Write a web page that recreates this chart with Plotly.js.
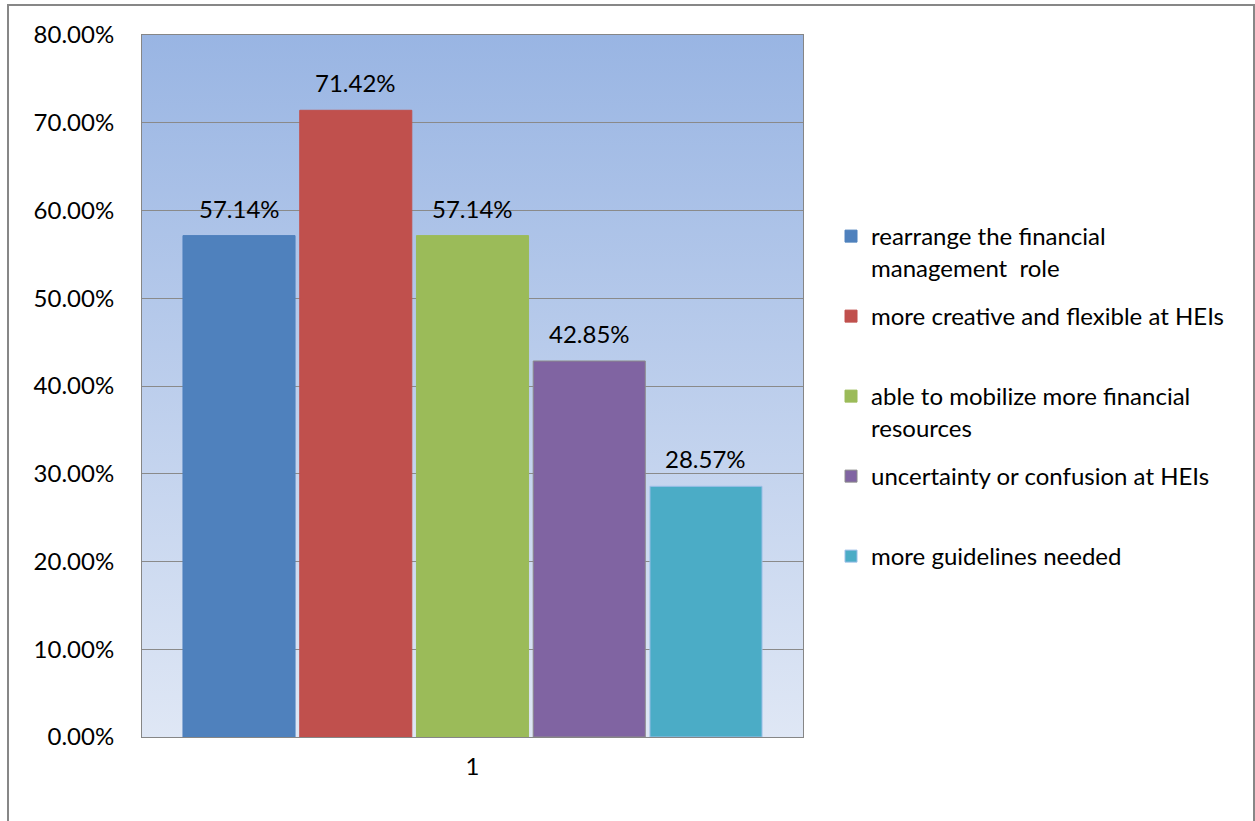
<!DOCTYPE html>
<html>
<head>
<meta charset="utf-8">
<script src="https://cdn.plot.ly/plotly-3.0.1.min.js"></script>
<style>html,body{margin:0;padding:0;background:#fff;}#chart{width:1255px;height:821px;}</style>
</head>
<body>
<div id="chart"></div>
<script>
// ---- data ----
const categories = ['1'];
const seriesNames = [
  'rearrange the financial<br>management\u00a0 role',
  'more creative and flexible at HEIs',
  'able to mobilize more financial<br>resources',
  'uncertainty or confusion at HEIs',
  'more guidelines needed'
];
const seriesValues = [0.5714, 0.7142, 0.5714, 0.4285, 0.2857];
const yTickVals = [0, 0.1, 0.2, 0.3, 0.4, 0.5, 0.6, 0.7, 0.8];

// ---- styles ----
const barColors = ['#4F81BD', '#C0504D', '#9BBB59', '#8064A2', '#4BACC6'];
const barLines = ['#4F81BD', '#C0504D', '#9BBB59', '#8C8C8C', '#9DBFE8'];
const FONT = 'Lato, "Open Sans", sans-serif';

const traces = seriesNames.map((n, i) => ({
  type: 'bar',
  x: [i],
  y: [seriesValues[i]],
  name: n.includes('<br>') ? n : n + '<br>\u00a0',
  legendgroup: 'g' + i,
  marker: {color: barColors[i], line: {color: barLines[i], width: 1}},
  width: 0.96,
  hoverinfo: 'y'
}));

const annotations = seriesValues.map((v, i) => ({
  x: i, y: v, xref: 'x', yref: 'y',
  text: (v * 100).toFixed(2) + '%',
  showarrow: false, yanchor: 'bottom', yshift: 11,
  font: {family: FONT, size: 24, color: '#000'}
}));

const gradSvg = '<svg xmlns="http://www.w3.org/2000/svg" width="100" height="100" preserveAspectRatio="none">' +
  '<defs><linearGradient id="g" x1="0" y1="0" x2="0" y2="1">' +
  '<stop offset="0" stop-color="#99B5E3"/><stop offset="1" stop-color="#DFE7F5"/>' +
  '</linearGradient></defs><rect width="100" height="100" fill="url(#g)"/></svg>';
const gradUri = 'data:image/svg+xml;base64,' + btoa(gradSvg);

const layout = {
  width: 1255, height: 821,
  margin: {l: 142, r: 452, t: 35, b: 84},
  paper_bgcolor: '#ffffff',
  plot_bgcolor: '#C4D3EE',
  barmode: 'overlay',
  font: {family: FONT, size: 24, color: '#000'},
  showlegend: true,
  legend: {
    x: 1.0424, xanchor: 'left', y: 0.745, yanchor: 'top',
    valign: 'top', tracegroupgap: 14.6,
    font: {family: FONT, size: 24, color: '#000'},
    bgcolor: 'rgba(0,0,0,0)'
  },
  xaxis: {
    type: 'linear',
    range: [-0.831, 4.831],
    tickvals: [(seriesNames.length - 1) / 2],
    ticktext: categories,
    showgrid: false, zeroline: false,
    showline: true, linecolor: '#868686', linewidth: 1, mirror: true,
    ticks: '', ticklabelstandoff: 8,
    tickfont: {family: FONT, size: 24, color: '#000'},
    fixedrange: true
  },
  yaxis: {
    range: [0, 0.8],
    tickvals: yTickVals,
    tickformat: '.2%',
    showgrid: true, gridcolor: '#8A8A8A', gridwidth: 1,
    zeroline: false,
    showline: true, linecolor: '#868686', linewidth: 1, mirror: true,
    ticks: '', ticklabelstandoff: 22,
    tickfont: {family: FONT, size: 24, color: '#000'},
    fixedrange: true
  },
  images: [{
    source: gradUri, xref: 'paper', yref: 'paper',
    x: 0, y: 1, sizex: 1, sizey: 1, sizing: 'stretch',
    xanchor: 'left', yanchor: 'top', layer: 'below'
  }],
  shapes: [{
    type: 'rect', xref: 'paper', yref: 'paper',
    x0: -0.2027, x1: 1.6823, y0: -0.16, y1: 1.0427,
    line: {color: '#878787', width: 2}, fillcolor: 'rgba(0,0,0,0)', layer: 'below'
  }],
  annotations: annotations
};

Plotly.newPlot('chart', traces, layout, {displayModeBar: false, staticPlot: true});
</script>
</body>
</html>
